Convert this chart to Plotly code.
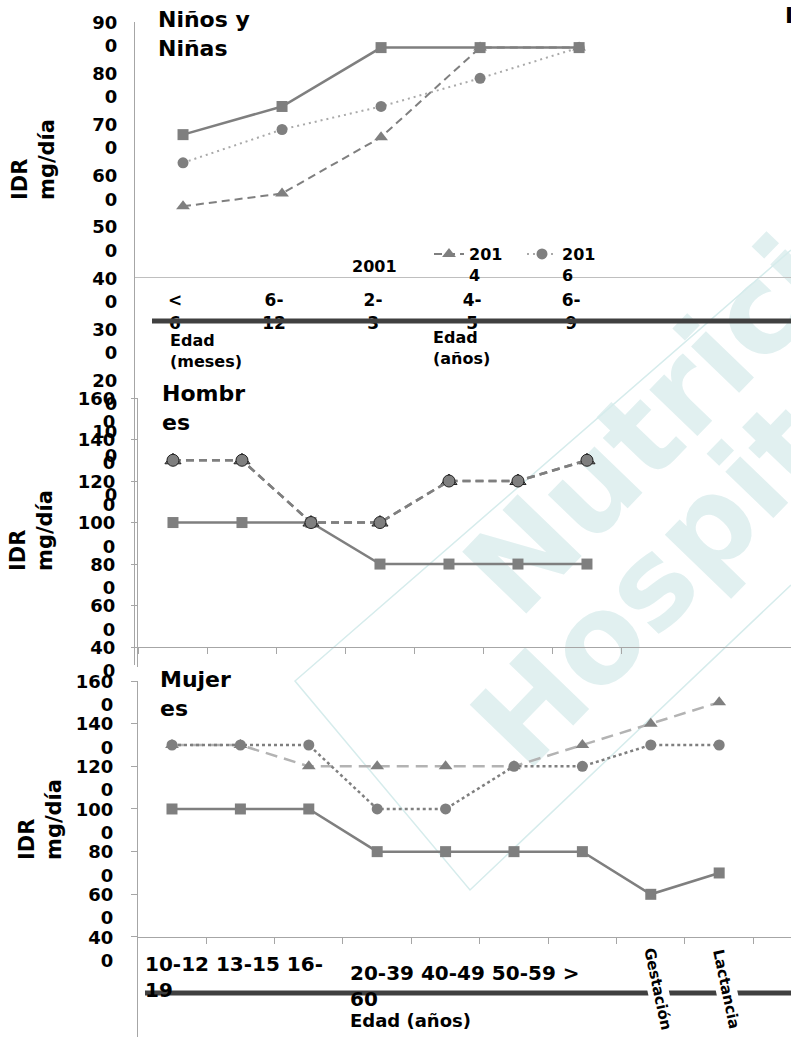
import plotly.graph_objects as go

W, H = 791, 1037
FONT = "DejaVu Sans"

# ---------------- data ----------------
series_names = ["2001", "2014", "2016"]

ninos_cats = ["< 6", "6-12", "2-3", "4-5", "6-9"]
ninos_2001 = [680, 735, 850, 850, 850]
ninos_2014 = [540, 565, 675, 850, 850]
ninos_2016 = [625, 690, 735, 790, 850]

hombres_cats = ["10-12", "13-15", "16-19", "20-39", "40-49", "50-59", "> 60"]
hombres_2001 = [1000, 1000, 1000, 800, 800, 800, 800]
hombres_2014 = [1300, 1300, 1000, 1000, 1200, 1200, 1300]
hombres_2016 = [1300, 1300, 1000, 1000, 1200, 1200, 1300]

mujeres_cats = ["10-12", "13-15", "16-19", "20-39", "40-49", "50-59", "> 60",
                "Gestación", "Lactancia"]
mujeres_2001 = [1000, 1000, 1000, 800, 800, 800, 800, 600, 700]
mujeres_2014 = [1300, 1300, 1200, 1200, 1200, 1200, 1300, 1400, 1500]
mujeres_2016 = [1300, 1300, 1300, 1000, 1000, 1200, 1200, 1300, 1300]

ninos_yticks = [0, 100, 200, 300, 400, 500, 600, 700, 800, 900]
adult_yticks = [400, 600, 800, 1000, 1200, 1400, 1600]

panel_titles = ["Niños y<br>Niñas", "Hombr<br>es", "Mujer<br>es"]
ytitle = "IDR<br>mg/día"
watermark = ["Nutrición", "Hospitalaria"]


# ---------------- helpers ----------------
def px(x):
    return x / W


def py(y):
    return 1 - y / H


def wrap_num(v):
    s = str(v)
    return s if len(s) < 2 else s[:-1] + "<br>" + s[-1]


def wrap_cat(c):
    if " " in c:
        return c.replace(" ", "<br>")
    if "-" in c:
        i = c.index("-")
        return c[:i + 1] + "<br>" + c[i + 1:]
    return c


def wrap_name(n):
    return n[:3] + "<br>" + n[3:]


GRAY = "#7f7f7f"
LGRAY = "#a9a9a9"
AXC = "#a6a6a6"
WM = "#e1f0f0"

fig = go.Figure()

# ---------------- panel 1 : Niños y Niñas ----------------
xn = list(range(len(ninos_cats)))
fig.add_trace(go.Scatter(x=[None], y=[None], mode="lines", name=series_names[0],
                         line=dict(color="rgba(0,0,0,0)"), showlegend=True,
                         legend="legend", xaxis="x", yaxis="y"))
fig.add_trace(go.Scatter(x=xn, y=ninos_2014, mode="lines+markers", name=wrap_name(series_names[1]),
                         line=dict(color=GRAY, width=2, dash="8px,5px"),
                         marker=dict(symbol="triangle-up", size=12, color=GRAY),
                         legend="legend2", xaxis="x", yaxis="y"))
fig.add_trace(go.Scatter(x=xn, y=ninos_2016, mode="lines+markers", name=wrap_name(series_names[2]),
                         line=dict(color=LGRAY, width=2, dash="2px,4px"),
                         marker=dict(symbol="circle", size=11, color=GRAY),
                         legend="legend3", xaxis="x", yaxis="y"))
fig.add_trace(go.Scatter(x=xn, y=ninos_2001, mode="lines+markers", name=series_names[0],
                         line=dict(color=GRAY, width=2.5),
                         marker=dict(symbol="square", size=11, color=GRAY),
                         showlegend=False, xaxis="x", yaxis="y"))

# ---------------- panel 2 : Hombres ----------------
xh = list(range(len(hombres_cats)))
fig.add_trace(go.Scatter(x=xh, y=hombres_2001, mode="lines+markers", name=series_names[0],
                         line=dict(color=GRAY, width=2.5),
                         marker=dict(symbol="square", size=11, color=GRAY),
                         showlegend=False, xaxis="x2", yaxis="y2"))
fig.add_trace(go.Scatter(x=xh, y=hombres_2014, mode="lines+markers", name=series_names[1],
                         line=dict(color=GRAY, width=2.5, dash="8px,5px"),
                         marker=dict(symbol="triangle-up", size=14, color=GRAY,
                                     line=dict(color="#222", width=1)),
                         showlegend=False, xaxis="x2", yaxis="y2"))
fig.add_trace(go.Scatter(x=xh, y=hombres_2016, mode="lines+markers", name=series_names[2],
                         line=dict(color=GRAY, width=2.5, dash="8px,5px"),
                         marker=dict(symbol="circle", size=12, color=GRAY,
                                     line=dict(color="#222", width=1)),
                         showlegend=False, xaxis="x2", yaxis="y2"))

# ---------------- panel 3 : Mujeres ----------------
xm = list(range(len(mujeres_cats)))
fig.add_trace(go.Scatter(x=xm, y=mujeres_2001, mode="lines+markers", name=series_names[0],
                         line=dict(color=GRAY, width=2.5),
                         marker=dict(symbol="square", size=11, color=GRAY),
                         showlegend=False, xaxis="x3", yaxis="y3"))
fig.add_trace(go.Scatter(x=xm, y=mujeres_2014, mode="lines+markers", name=series_names[1],
                         line=dict(color="#b3b3b3", width=2.5, dash="12px,7px"),
                         marker=dict(symbol="triangle-up", size=12, color=GRAY),
                         showlegend=False, xaxis="x3", yaxis="y3"))
fig.add_trace(go.Scatter(x=xm, y=mujeres_2016, mode="lines+markers", name=series_names[2],
                         line=dict(color=GRAY, width=2.5, dash="3px,3px"),
                         marker=dict(symbol="circle", size=11, color=GRAY),
                         showlegend=False, xaxis="x3", yaxis="y3"))

xtickfont = dict(family=FONT, size=17, color="black", weight="bold")
ytickfont = dict(family=FONT, size=18, color="black", weight="bold")
common = dict(automargin=False, showgrid=False, zeroline=False, showline=True, linewidth=1)
legfont = dict(family=FONT, size=16, color="black", weight="bold")


def leg(x, y):
    return dict(orientation="h", x=px(x), y=py(y), xanchor="left", yanchor="top",
                valign="top", bgcolor="rgba(0,0,0,0)", font=legfont)


fig.update_layout(
    width=W, height=H,
    margin=dict(l=0, r=0, t=0, b=0, autoexpand=False),
    paper_bgcolor="white", plot_bgcolor="rgba(0,0,0,0)",
    font=dict(family=FONT, color="black"),
    showlegend=True,
    legend=leg(312, 249), legend2=leg(429, 237), legend3=leg(522, 237),
    # panel 1
    xaxis=dict(domain=[px(135), 1], range=[-0.485, 6.14], anchor="free", position=py(277),
               linecolor="#bfbfbf", ticks="", tickmode="array", tickvals=xn,
               ticktext=[wrap_cat(c) for c in ninos_cats], tickfont=xtickfont,
               ticklabelstandoff=8, ticklabelshift=-8, **common),
    yaxis=dict(domain=[py(665), py(22)], range=[-356, 900], anchor="x",
               linecolor=AXC, ticks="", tickmode="array", tickvals=ninos_yticks,
               ticktext=[wrap_num(v) for v in ninos_yticks], tickfont=ytickfont,
               ticklabelstandoff=13, ticklabelshift=12, **common),
    # panel 2
    xaxis2=dict(domain=[px(138), 1], range=[-0.507, 8.957], anchor="free", position=py(647),
                linecolor=AXC, ticks="outside", ticklen=6, tickcolor=AXC, tickmode="array",
                tickvals=[i - 0.5 for i in range(len(hombres_cats) + 1)],
                showticklabels=False, **common),
    yaxis2=dict(domain=[py(667), py(398)], range=[304, 1600], anchor="x2",
                linecolor=AXC, ticks="outside", ticklen=6, tickcolor=AXC, tickmode="array",
                tickvals=adult_yticks, ticktext=[wrap_num(v) for v in adult_yticks],
                tickfont=ytickfont, ticklabelstandoff=12, ticklabelshift=12, **common),
    # panel 3
    xaxis3=dict(domain=[px(138), 1], range=[-0.497, 9.05], anchor="free", position=py(937),
                linecolor=AXC, ticks="outside", ticklen=6, tickcolor=AXC, tickmode="array",
                tickvals=[i - 0.5 for i in range(len(mujeres_cats) + 1)],
                showticklabels=False, **common),
    yaxis3=dict(domain=[0, py(681)], range=[-69, 1600], anchor="x3",
                linecolor=AXC, ticks="outside", ticklen=6, tickcolor=AXC, tickmode="array",
                tickvals=adult_yticks, ticktext=[wrap_num(v) for v in adult_yticks],
                tickfont=ytickfont, ticklabelstandoff=14, ticklabelshift=12, **common),
)


# ---------------- watermark & decorations (below data) ----------------
def wm_shape(text, cx, cy, size, ang_deg=45):
    d = 40
    return dict(type="line", xref="paper", yref="paper",
                x0=px(cx - d), y0=py(cy + d), x1=px(cx + d), y1=py(cy - d),
                layer="below", line=dict(color="rgba(0,0,0,0)", width=1),
                label=dict(text=text, textposition="middle", yanchor="middle",
                           textangle=-ang_deg,
                           font=dict(family=FONT, size=size, color=WM, weight="bold")))


shapes = [
    wm_shape(watermark[0], 702, 358, 122, 46),
    wm_shape(watermark[1], 780, 438, 122, 46),
    dict(type="path", xref="paper", yref="paper", layer="below",
         path=f"M {px(791)} {py(250)} L {px(295)} {py(681)} L {px(470)} {py(890)} L {px(791)} {py(585)}",
         line=dict(color="#d6ecec", width=1.5)),
    # thick separator bars
    dict(type="line", xref="paper", yref="paper", layer="above",
         x0=px(152), x1=1, y0=py(321), y1=py(321), line=dict(color="#404040", width=5)),
    dict(type="line", xref="paper", yref="paper", layer="above",
         x0=px(145), x1=1, y0=py(993), y1=py(993), line=dict(color="#404040", width=5)),
]
fig.update_layout(shapes=shapes)

# ---------------- text annotations ----------------
bold = dict(family=FONT, color="black", weight="bold")
ann = []
for t, (x0, y0) in zip(panel_titles, [(156, 5), (160, 379), (158, 665)]):
    ann.append(dict(text=t, xref="paper", yref="paper", x=px(x0), y=py(y0),
                    xanchor="left", yanchor="top", align="left", showarrow=False,
                    font=dict(size=22, **bold)))
for (xc, yc) in [(33, 160), (31, 531), (40, 820)]:
    ann.append(dict(text=ytitle, xref="paper", yref="paper", x=px(xc), y=py(yc),
                    xanchor="center", yanchor="middle", align="left", textangle=-90,
                    showarrow=False, font=dict(size=21, **bold)))
ann.append(dict(text="Edad<br>(meses)", xref="paper", yref="paper", x=px(168), y=py(329),
                xanchor="left", yanchor="top", align="left", showarrow=False,
                font=dict(size=16, **bold)))
ann.append(dict(text="Edad<br>(años)", xref="paper", yref="paper", x=px(431), y=py(326),
                xanchor="left", yanchor="top", align="left", showarrow=False,
                font=dict(size=16, **bold)))
grp1 = " ".join(mujeres_cats[:2]) + " " + wrap_cat(mujeres_cats[2])
grp2 = " ".join(mujeres_cats[3:6]) + " " + wrap_cat(mujeres_cats[6])
ann.append(dict(text=grp1, xref="paper", yref="paper", x=px(143), y=py(950),
                xanchor="left", yanchor="top", align="left", showarrow=False,
                font=dict(size=20, **bold)))
ann.append(dict(text=grp2, xref="paper", yref="paper", x=px(348), y=py(959),
                xanchor="left", yanchor="top", align="left", showarrow=False,
                font=dict(size=20, **bold)))
ann.append(dict(text="Edad (años)", xref="paper", yref="paper", x=px(348), y=py(1020),
                xanchor="left", yanchor="middle", align="left", showarrow=False,
                font=dict(size=18, **bold)))
for i in (7, 8):
    ann.append(dict(text=mujeres_cats[i], xref="x3", yref="paper", x=i, y=py(989),
                    xshift=7, xanchor="center", yanchor="middle", textangle=78,
                    showarrow=False, bgcolor="white",
                    font=dict(family=FONT, size=15, color="black", weight="bold")))
ann.append(dict(text="I", xref="paper", yref="paper", x=px(783), y=py(16),
                xanchor="left", yanchor="middle", showarrow=False,
                font=dict(size=22, **bold)))
fig.update_layout(annotations=ann)

fig.write_html("out.html", config={"displayModeBar": False},
               post_script="document.body.style.margin='0px';")
